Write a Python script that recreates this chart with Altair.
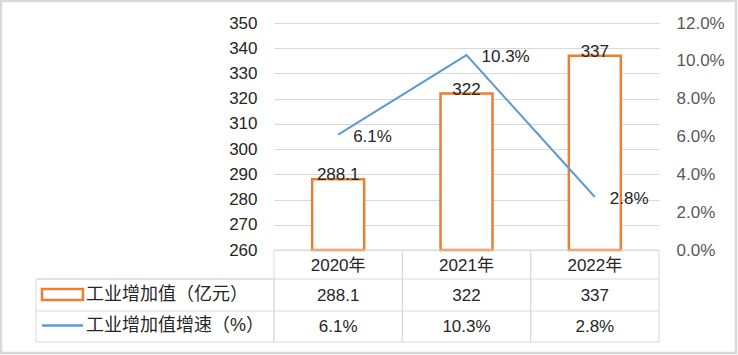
import altair as alt
import pandas as pd

# ---- data ----
years = ["2020年", "2021年", "2022年"]
values = [288.1, 322, 337]          # 工业增加值（亿元）
growth = [6.1, 10.3, 2.8]           # 工业增加值增速（%）
series_names = ["工业增加值（亿元）", "工业增加值增速（%）"]
left_ticks = [260, 270, 280, 290, 300, 310, 320, 330, 340, 350]
right_ticks = [0, 2, 4, 6, 8, 10, 12]

# ---- styling ----
ORANGE = "#ED7D31"
BLUE = "#5B9BD5"
GRID = "#D9D9D9"
TEXT = "#262626"
AXIS_R = "#595959"
FONT = "Liberation Sans, Noto Sans CJK SC"
FS = 17
W, H = 385, 227

df = pd.DataFrame({
    "year": years,
    "value": values,
    "growth": growth,
    "value_label": [str(v) for v in values],
    "growth_label": [f"{g}%" for g in growth],
})
df_one = pd.DataFrame({"k": [0]})

x = alt.X("year:N", sort=years,
          scale=alt.Scale(paddingInner=0, paddingOuter=0), axis=None)

y_left = alt.Y("value:Q",
               scale=alt.Scale(domain=[260, 350], nice=False, zero=False),
               axis=alt.Axis(values=left_ticks, grid=True, gridColor=GRID,
                             gridWidth=1, domain=False, ticks=False,
                             labelPadding=17, labelFontSize=FS,
                             labelColor=TEXT, labelFont=FONT, title=None))

bars = alt.Chart(df).mark_bar(
    fill="white", stroke=ORANGE, strokeWidth=2.5,
    width=alt.RelativeBandSize(0.405)
).encode(x=x, y=y_left, y2=alt.Y2Datum(260))

bar_text = alt.Chart(df).mark_text(
    align="center", baseline="alphabetic", dy=1,
    font=FONT, fontSize=FS, color=TEXT
).encode(x=x, y=y_left, text="value_label:N")

# ---- data table below the plot ----
table_cells = alt.Chart(df).mark_rect(
    fillOpacity=0, stroke=GRID, strokeWidth=1
).encode(x=x, y=alt.value(H), y2=alt.value(319))

label_col = alt.Chart(df_one).mark_rect(
    fillOpacity=0, stroke=GRID, strokeWidth=1
).encode(x=alt.value(-238), x2=alt.value(0), y=alt.value(256), y2=alt.value(319))

row_rule1 = alt.Chart(df_one).mark_rule(color=GRID, strokeWidth=1).encode(
    x=alt.value(-238), x2=alt.value(W), y=alt.value(256))
row_rule2 = alt.Chart(df_one).mark_rule(color=GRID, strokeWidth=1).encode(
    x=alt.value(-238), x2=alt.value(W), y=alt.value(288))

cat_text = alt.Chart(df).mark_text(
    baseline="middle", font=FONT, fontSize=FS, color=TEXT
).encode(x=x, y=alt.value(243), text="year:N")

val_text = alt.Chart(df).mark_text(
    baseline="middle", font=FONT, fontSize=FS, color=TEXT
).encode(x=x, y=alt.value(273), text="value_label:N")

gr_text = alt.Chart(df).mark_text(
    baseline="middle", font=FONT, fontSize=FS, color=TEXT
).encode(x=x, y=alt.value(303.5), text="growth_label:N")

swatch_bar = alt.Chart(df_one).mark_rect(
    fill="white", stroke=ORANGE, strokeWidth=2.5
).encode(x=alt.value(-232), x2=alt.value(-191), y=alt.value(266), y2=alt.value(277))

swatch_line = alt.Chart(df_one).mark_rule(color=BLUE, strokeWidth=2.5).encode(
    x=alt.value(-232), x2=alt.value(-191), y=alt.value(302.5))

leg1 = alt.Chart(pd.DataFrame({"name": [series_names[0]]})).mark_text(
    align="left", baseline="middle", font=FONT, fontSize=18, color=TEXT
).encode(x=alt.value(-188), y=alt.value(272), text="name:N")

leg2 = alt.Chart(pd.DataFrame({"name": [series_names[1]]})).mark_text(
    align="left", baseline="middle", font=FONT, fontSize=18, color=TEXT
).encode(x=alt.value(-188), y=alt.value(303), text="name:N")

border = alt.Chart(df_one).mark_rect(
    fillOpacity=0, stroke=GRID, strokeWidth=2.5
).encode(x=alt.value(-273), x2=alt.value(462), y=alt.value(-22), y2=alt.value(330))

left = alt.layer(bars, bar_text, border, table_cells, label_col, row_rule1,
                 row_rule2, cat_text, val_text, gr_text,
                 swatch_bar, swatch_line, leg1, leg2)

# ---- growth line on the right axis ----
y_right = alt.Y("growth:Q",
                scale=alt.Scale(domain=[0, 12], nice=False, zero=True),
                axis=alt.Axis(orient="right", values=right_ticks,
                              labelExpr="format(datum.value, '.1f') + '%'",
                              grid=False, domain=False, ticks=False,
                              labelPadding=17, labelFontSize=FS,
                              labelColor=AXIS_R, labelFont=FONT, title=None))

line = alt.Chart(df).mark_line(color=BLUE, strokeWidth=2).encode(x=x, y=y_right)

line_text = alt.Chart(df).mark_text(
    align="left", baseline="middle", dx=15, dy=2,
    font=FONT, fontSize=FS, color=TEXT
).encode(x=x, y=y_right, text="growth_label:N")

right = alt.layer(line, line_text)

chart = alt.layer(left, right).resolve_scale(y="independent").properties(
    width=W, height=H,
    padding={"left": 274, "top": 23, "right": 79, "bottom": 105},
    autosize=alt.AutoSizeParams(type="none"),
    background="white",
).configure_view(stroke=None)

chart.save("out.html", embed_options={"renderer": "svg", "actions": False})
